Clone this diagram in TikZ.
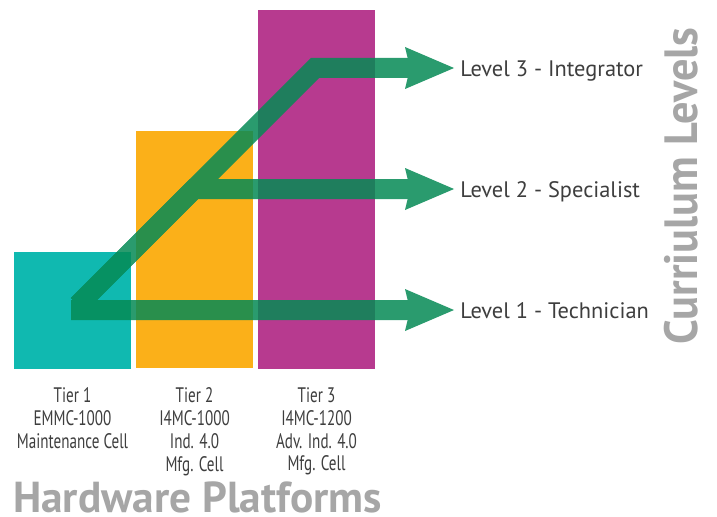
\documentclass[tikz,border=0pt]{standalone}
\usepackage{fontspec}
\setmainfont{PT Sans}
\newfontfamily\tierfont[FakeStretch=0.72]{PT Sans}
\newfontfamily\levelfont{PT Sans}
\newfontfamily\titlefont{PT Sans Bold}
\newfontfamily\sidefont[FakeStretch=0.95]{PT Sans Bold}
\usetikzlibrary{arrows.meta}
\definecolor{cteal}{RGB}{16,185,176}
\definecolor{corange}{RGB}{251,176,25}
\definecolor{cmagenta}{RGB}{183,58,143}
\definecolor{cgreen}{RGB}{5,138,85}
\definecolor{ctext}{RGB}{62,62,62}
\definecolor{ctitle}{RGB}{166,166,166}
\tikzset{
  x=0.75pt, y=-0.75pt,
  tierbox/.style={draw=none, inner sep=0pt, anchor=north west,
    minimum width=87.75pt, minimum height=#1},
  tierlabel/.style={inner sep=0pt, anchor=north, align=center, text=ctext,
    font=\tierfont\fontsize{15.75pt}{17.2pt}\selectfont},
  levellabel/.style={inner sep=0pt, anchor=base west, text=ctext,
    font=\levelfont\fontsize{16.8pt}{19pt}\selectfont},
  pathway/.style={draw=cgreen, line width=15pt, line join=miter,
    -{Stealth[length=36.75pt, width=31.5pt, inset=3.75pt, line width=0pt]}},
  titletext/.style={inner sep=0pt, text=ctitle, text depth=0pt}
}
\begin{document}
\begin{tikzpicture}
\useasboundingbox[fill=white] (0,0) rectangle (717,517);
% platform boxes
\node[tierbox=87.75pt, fill=cteal] (t1) at (14,252) {};
\node[tierbox=177.75pt, fill=corange] (t2) at (136,131) {};
\node[tierbox=269.25pt, fill=cmagenta] (t3) at (258,10) {};
% level labels
\node[levellabel] (l3) at (460,76) {Level 3 - Integrator};
\node[levellabel] (l2) at (460,197) {Level 2 - Specialist};
\node[levellabel] (l1) at (460,318) {Level 1 - Technician};
% arrow anchor points
\coordinate (s1) at (71,310);
\coordinate (s2) at (78,305);
\coordinate (b2) at (194,189);
\coordinate (b3) at (315,68);
\coordinate (e1) at (454,310);
\coordinate (e2) at (454,189);
\coordinate (e3) at (454,68);
% pathways (one transparency group)
\begin{scope}[transparency group, opacity=0.85]
\draw[pathway] (s1) -- (e1);
\draw[pathway] (s2) -- (b2) -- (e2);
\draw[pathway] (s2) -- (b3) -- (e3);
\end{scope}
% tier labels
\node[tierlabel] (d1) at (72.5,387) {Tier 1\\EMMC-1000\\Maintenance Cell};
\node[tierlabel] (d2) at (194.5,387) {Tier 2\\I4MC-1000\\Ind. 4.0\\Mfg. Cell};
\node[tierlabel] (d3) at (316.5,387) {Tier 3\\I4MC-1200\\Adv. Ind. 4.0\\Mfg. Cell};
% titles
\node[titletext, anchor=base west,
  font=\titlefont\fontsize{32.5pt}{32.5pt}\selectfont] (hw) at (13,512) {Hardware Platforms};
\node[titletext, anchor=base west, rotate=90,
  font=\sidefont\fontsize{35pt}{35pt}\selectfont] (cl) at (697,345) {Curriulum Levels};
\end{tikzpicture}
\end{document}
